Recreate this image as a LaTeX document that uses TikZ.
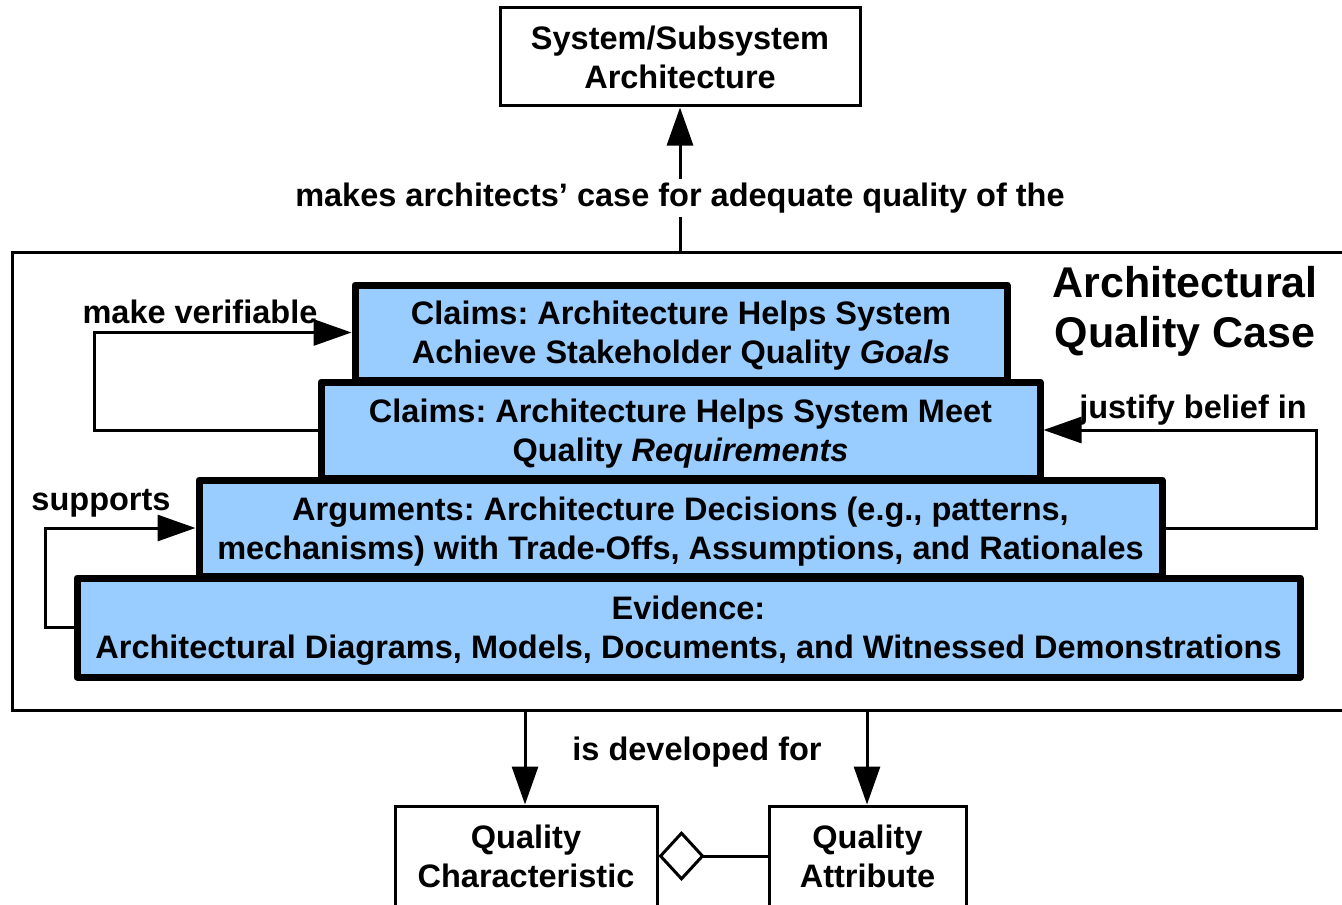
\documentclass[tikz,border=0pt]{standalone}
\usepackage{fontspec}
\setmainfont{Liberation Sans}
\usetikzlibrary{arrows.meta}
\definecolor{boxblue}{RGB}{153,204,255}
\frenchspacing
\begin{document}
\begin{tikzpicture}[x=0.5pt,y=-0.5pt,
  every node/.style={font=\fontsize{16.25}{19.5}\selectfont\bfseries, align=center, inner sep=0pt},
  layer/.style={draw, line width=3.5pt, line join=round, fill=boxblue, text depth=-1.5pt},
  plainbox/.style={draw, line width=1.5pt, fill=white},
  lbl/.style={fill=white, inner sep=2pt},
  conn/.style={line width=1.5pt, -{Triangle[length=19pt,width=13pt]}},
  plainline/.style={line width=1.5pt}]
\useasboundingbox (0,0) rectangle (1342,904);
% outer container
\draw[plainline] (1343,252) -| (12,710) -- (1343,710);
\coordinate (t) at (680,252);
\coordinate (b1) at (525,710);
\coordinate (b2) at (867,710);
\coordinate (mv) at (94,0);
\coordinate (jb) at (1316,0);
\coordinate (sp) at (45,0);
% title
\node[font=\fontsize{21.5}{25}\selectfont\bfseries] (title) at (1185,311) {Architectural\\Quality Case};
% top box
\node[plainbox, minimum width=180pt, minimum height=49pt] (sys) at (680,57) {System/Subsystem\\Architecture};
% layers
\node[layer, minimum width=326pt, minimum height=47.5pt] (goals) at (681,332.5) {Claims: Architecture Helps System\\Achieve Stakeholder Quality \textit{Goals}};
\node[layer, minimum width=359.5pt, minimum height=48pt] (req) at (680.5,430) {Claims: Architecture Helps System Meet\\Quality \textit{Requirements}};
\node[layer, minimum width=481.5pt, minimum height=48pt] (arg) at (680.5,528) {Arguments: Architecture Decisions (e.g., patterns,\\mechanisms) with Trade-Offs, Assumptions, and Rationales};
\node[layer, minimum width=611.5pt, minimum height=49.5pt] (ev) at (688.5,627.5) {Evidence:\\Architectural Diagrams, Models, Documents, and Witnessed Demonstrations};
% bottom boxes
\node[plainbox, minimum width=131pt, minimum height=50pt] (qc) at (526,856) {Quality\\Characteristic};
\node[plainbox, minimum width=98.5pt, minimum height=50pt] (qa) at (867.5,856) {Quality\\Attribute};
% connectors
\draw[conn] (t) -- (sys.south);
\node[lbl] (mk) at (680,198) {makes architects’ case for adequate quality of the};
\draw[conn] (req.west) -- (req.west -| mv) -- (goals.west -| mv) -- (goals.west);
\node (mvl) at (200,312) {make verifiable};
\draw[conn] (arg.east) -- (arg.east -| jb) -- (req.east -| jb) -- (req.east);
\node (jbl) at (1193,410) {justify belief in};
\draw[conn] (ev.west) -- (ev.west -| sp) -- (arg.west -| sp) -- (arg.west);
\node (spl) at (101,503) {supports};
\draw[conn] (b1) -- (b1 |- qc.north);
\draw[conn] (b2) -- (b2 |- qa.north);
\node (dev) at (697,752) {is developed for};
\draw[plainline, {Diamond[open,length=23pt,width=25pt]}-] (qc.east) -- (qa.west);
\end{tikzpicture}
\end{document}
